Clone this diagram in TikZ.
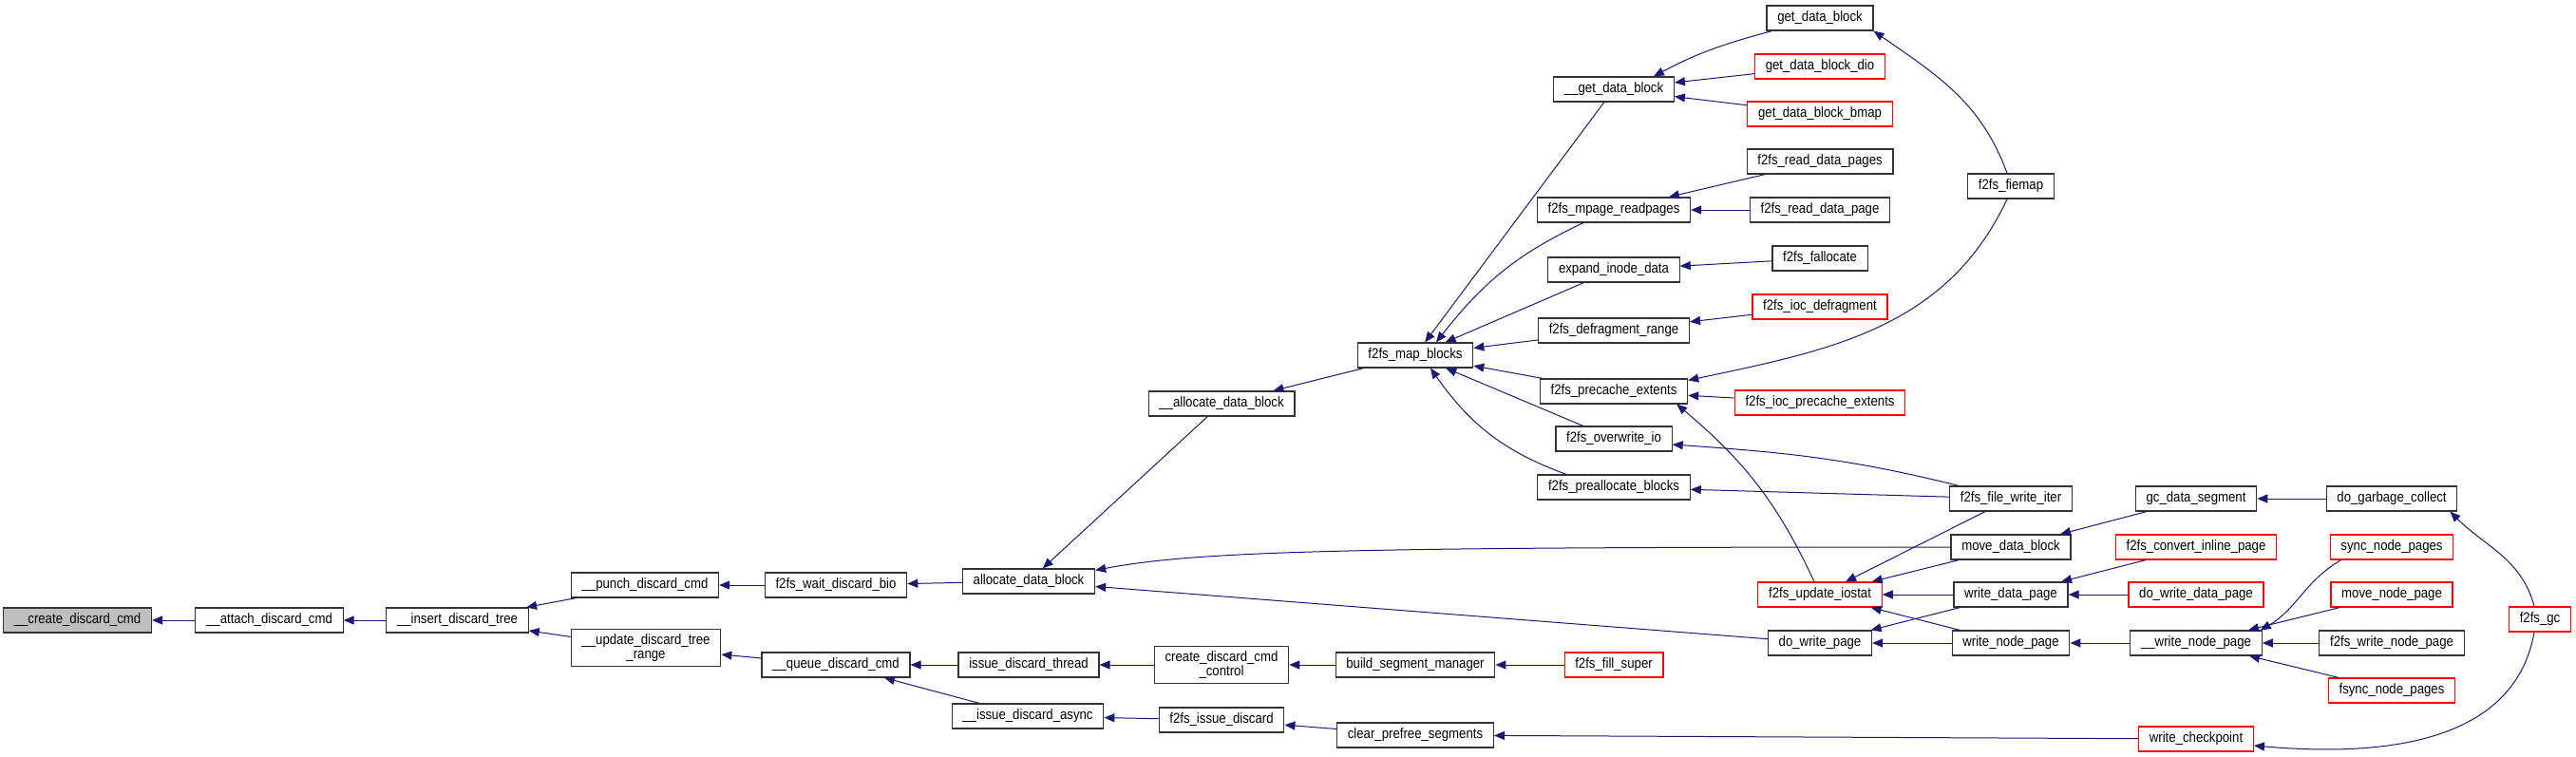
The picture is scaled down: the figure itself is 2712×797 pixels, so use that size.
\documentclass[tikz,border=0pt]{standalone}
\usepackage{fontspec}
\setmainfont{Liberation Sans}[FakeStretch=0.88]
\usepackage{tikz}
\usetikzlibrary{arrows.meta}
\definecolor{edgeblue}{HTML}{191970}
\definecolor{fnred}{HTML}{FF0000}
\definecolor{rootgray}{HTML}{BFBFBF}
\tikzset{
  fn/.style={draw=black!80,line width=0.6pt,fill=white,font=\fontsize{7.5pt}{7.3pt}\selectfont,
    inner xsep=5.6pt,inner ysep=2.6pt,minimum height=13pt,align=center},
  fnext/.style={fn,draw=fnred},
  call/.style={<-,draw=edgeblue,line width=0.5pt},
  >={Triangle[length=5.5pt,width=4.5pt]}
}
\begin{document}
\begin{tikzpicture}[x=0.5pt,y=-0.5pt]
  \useasboundingbox (0,0) rectangle (2712,797);
  \node[fn,fill=rootgray] (create) at (81.5,653) {\_\_create\_discard\_cmd};
  \node[fn] (attach) at (283.5,653) {\_\_attach\_discard\_cmd};
  \node[fn] (insert) at (481.5,653) {\_\_insert\_discard\_tree};
  \node[fn] (punch) at (679,616) {\_\_punch\_discard\_cmd};
  \node[fn] (updrange) at (680,682) {\_\_update\_discard\_tree\\\_range};
  \node[fn] (waitbio) at (880,616) {f2fs\_wait\_discard\_bio};
  \node[fn] (queue) at (880,700) {\_\_queue\_discard\_cmd};
  \node[fn] (allocdb) at (1083,612) {allocate\_data\_block};
  \node[fn] (issuethread) at (1083,700) {issue\_discard\_thread};
  \node[fn] (issueasync) at (1082,754) {\_\_issue\_discard\_async};
  \node[fn] (uallocdb) at (1286,425) {\_\_allocate\_data\_block};
  \node[fn] (createctl) at (1286,700) {create\_discard\_cmd\\\_control};
  \node[fn] (issuediscard) at (1286,758) {f2fs\_issue\_discard};
  \node[fn] (mapblocks) at (1490,374) {f2fs\_map\_blocks};
  \node[fn] (buildsm) at (1490,700) {build\_segment\_manager};
  \node[fn] (clearprefree) at (1490,774) {clear\_prefree\_segments};
  \node[fn] (ugetdb) at (1699,94) {\_\_get\_data\_block};
  \node[fn] (mpage) at (1699,221) {f2fs\_mpage\_readpages};
  \node[fn] (expand) at (1699,284) {expand\_inode\_data};
  \node[fn] (defragrange) at (1699,348) {f2fs\_defragment\_range};
  \node[fn] (precache) at (1699,412) {f2fs\_precache\_extents};
  \node[fn] (overwrite) at (1699,462) {f2fs\_overwrite\_io};
  \node[fn] (prealloc) at (1699,513) {f2fs\_preallocate\_blocks};
  \node[fnext] (fillsuper) at (1699,700) {f2fs\_fill\_super};
  \node[fn] (getdb) at (1916,19) {get\_data\_block};
  \node[fnext] (getdbdio) at (1916,70) {get\_data\_block\_dio};
  \node[fnext] (getdbbmap) at (1916,120) {get\_data\_block\_bmap};
  \node[fn] (readpages) at (1916,170) {f2fs\_read\_data\_pages};
  \node[fn] (readpage) at (1916,221) {f2fs\_read\_data\_page};
  \node[fn] (fallocate) at (1916,272) {f2fs\_fallocate};
  \node[fnext] (iocdefrag) at (1916,323) {f2fs\_ioc\_defragment};
  \node[fnext] (iocprecache) at (1916,424) {f2fs\_ioc\_precache\_extents};
  \node[fnext] (iostat) at (1916,626) {f2fs\_update\_iostat};
  \node[fn] (dowritepage) at (1916,677) {do\_write\_page};
  \node[fn] (fiemap) at (2117,196) {f2fs\_fiemap};
  \node[fn] (writeiter) at (2117,525) {f2fs\_file\_write\_iter};
  \node[fn] (movedb) at (2117,576) {move\_data\_block};
  \node[fn] (writedata) at (2117,626) {write\_data\_page};
  \node[fn] (writenode) at (2117,677) {write\_node\_page};
  \node[fn] (gcdataseg) at (2312,525) {gc\_data\_segment};
  \node[fnext] (convinline) at (2312,576) {f2fs\_convert\_inline\_page};
  \node[fnext] (dowritedata) at (2312,626) {do\_write\_data\_page};
  \node[fn] (uwritenode) at (2312,677) {\_\_write\_node\_page};
  \node[fnext] (writecp) at (2312,778) {write\_checkpoint};
  \node[fn] (dogc) at (2518,525) {do\_garbage\_collect};
  \node[fnext] (syncnode) at (2518,576) {sync\_node\_pages};
  \node[fnext] (movenode) at (2518,626) {move\_node\_page};
  \node[fn] (writenodepg) at (2518,677) {f2fs\_write\_node\_page};
  \node[fnext] (fsyncnode) at (2518,727) {fsync\_node\_pages};
  \node[fnext] (gc) at (2674,652) {f2fs\_gc};
  \foreach \a/\b in {create/attach,attach/insert,insert/punch,insert/updrange,punch/waitbio,
      updrange/queue,waitbio/allocdb,queue/issuethread,queue/issueasync,allocdb/uallocdb,
      allocdb/dowritepage,issuethread/createctl,issueasync/issuediscard,createctl/buildsm,
      buildsm/fillsuper,issuediscard/clearprefree,clearprefree/writecp,uallocdb/mapblocks,
      mapblocks/ugetdb,mapblocks/expand,mapblocks/defragrange,mapblocks/precache,
      mapblocks/overwrite,ugetdb/getdbdio,ugetdb/getdbbmap,mpage/readpages,mpage/readpage,
      expand/fallocate,defragrange/iocdefrag,precache/iocprecache,prealloc/writeiter,
      iostat/writeiter,iostat/movedb,iostat/writedata,iostat/writenode,dowritepage/writedata,
      dowritepage/writenode,movedb/gcdataseg,gcdataseg/dogc,writedata/convinline,
      writedata/dowritedata,writenode/uwritenode,uwritenode/movenode,uwritenode/writenodepg,
      uwritenode/fsyncnode}
    \draw[call] (\a) -- (\b);
  \draw[call] ([yshift=-1pt]allocdb.north east) .. controls (1260,580) and (1420,576) .. (movedb.west);
  \draw[call] ([xshift=-11pt]ugetdb.north east) to[out=28,in=-165] ([xshift=3pt]getdb.south west);
  \draw[call] ([xshift=11pt]mapblocks.north) to[out=52,in=-155] ([xshift=-16pt]mpage.south);
  \draw[call] ([xshift=8pt]mapblocks.south) to[out=-55,in=160] ([xshift=-25pt]prealloc.north);
  \draw[call] (getdb.south east) to[out=-35,in=110] ([xshift=-2pt]fiemap.north);
  \draw[call] ([yshift=-1pt]precache.north east) to[out=12,in=-115] ([xshift=-2pt]fiemap.south);
  \draw[call] ([xshift=-6pt]precache.south east) to[out=-40,in=115] ([xshift=-3pt]iostat.north);
  \draw[call] ([yshift=-3pt]overwrite.east) to[out=-4,in=166] ([xshift=5pt]writeiter.north west);
  \draw[call] ([xshift=-4pt]dogc.south east) to[out=-45,in=105] ([xshift=-3pt]gc.north);
  \draw[call] ([yshift=-3.5pt]writecp.east) to[out=-5,in=-100] ([xshift=-3pt]gc.south);
  \draw[call] ([xshift=-1pt]uwritenode.north east) to[out=30,in=-150] ([xshift=6pt]syncnode.south west);
\end{tikzpicture}
\end{document}
